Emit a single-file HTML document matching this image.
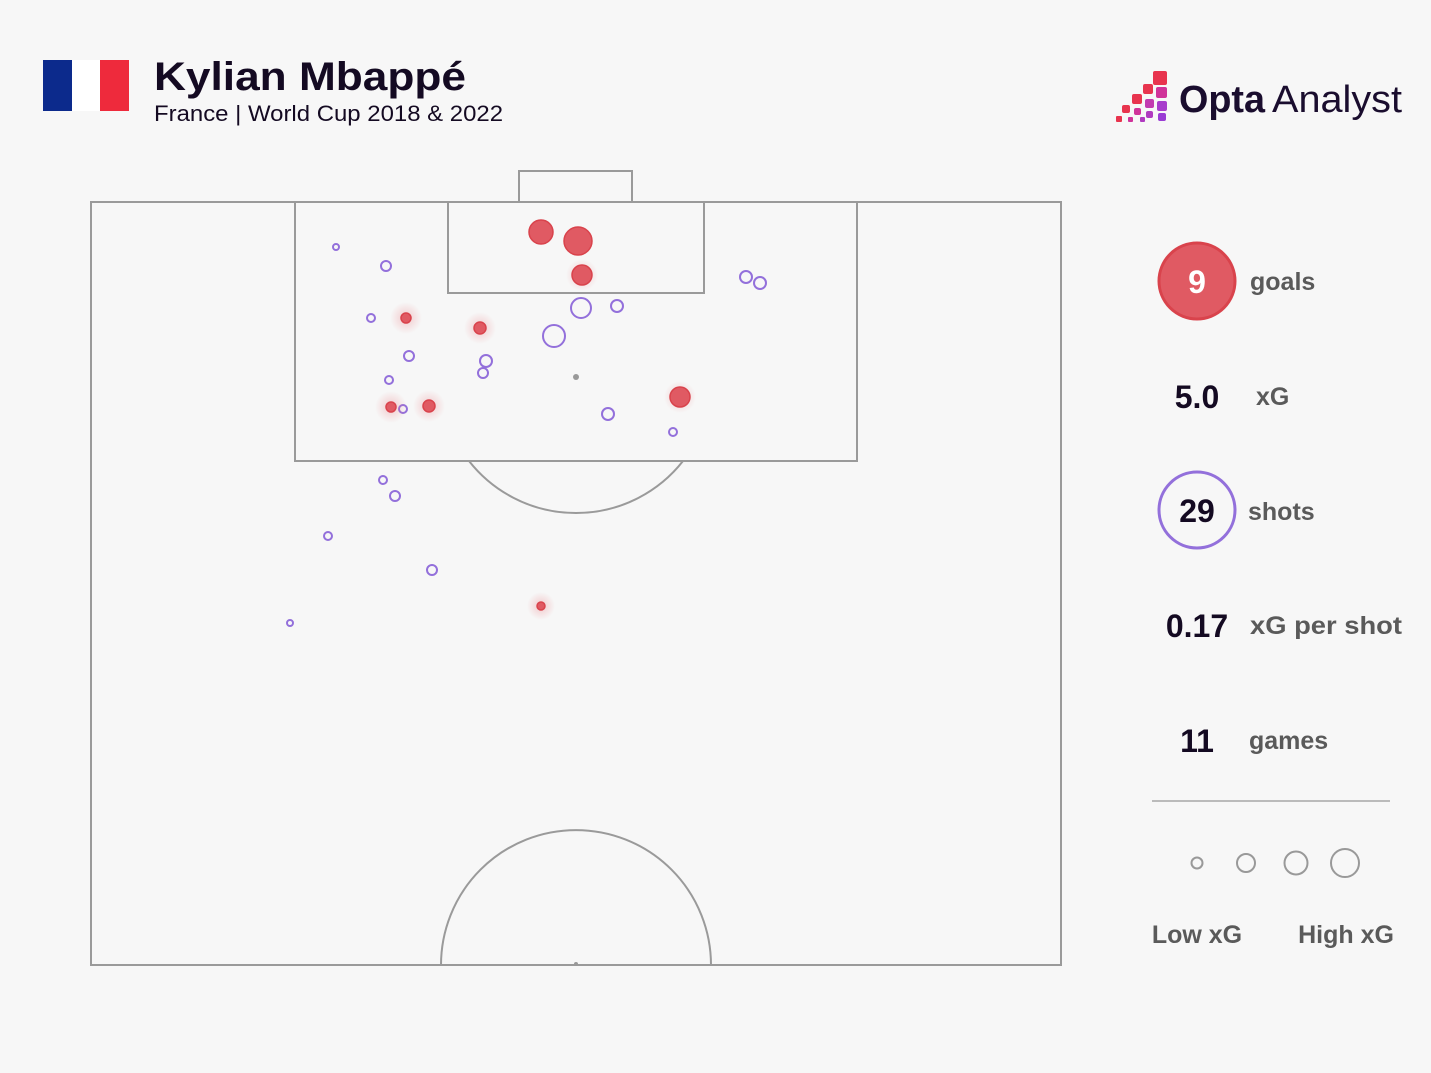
<!DOCTYPE html>
<html><head><meta charset="utf-8"><style>
html,body{margin:0;padding:0;background:#f7f7f7;}
svg{display:block;}
text{font-family:"Liberation Sans","DejaVu Sans",sans-serif;}
</style></head><body>
<svg width="1431" height="1073" viewBox="0 0 1431 1073" xmlns="http://www.w3.org/2000/svg">
<rect width="1431" height="1073" fill="#f7f7f7"/>
<defs>
<radialGradient id="gl"><stop offset="0" stop-color="#e8737a" stop-opacity="0.35"/><stop offset="1" stop-color="#e8737a" stop-opacity="0"/></radialGradient>
</defs>
<!-- flag -->
<rect x="43" y="60" width="29" height="51" fill="#0c2a8c"/>
<rect x="72" y="60" width="29" height="51" fill="#ffffff"/>
<rect x="100" y="60" width="29" height="51" fill="#ee2a3c"/>
<text x="154" y="90" font-size="40" font-weight="bold" fill="#140a22" font-family="DejaVu Sans, sans-serif" textLength="312" lengthAdjust="spacingAndGlyphs">Kylian Mbappé</text>
<text x="154" y="121" font-size="22" fill="#140a22" textLength="349" lengthAdjust="spacingAndGlyphs">France | World Cup 2018 &amp; 2022</text>
<!-- logo -->
<g>
<rect x="1153" y="71" width="14" height="14" fill="#e8344e" rx="2"/>
<rect x="1143" y="84" width="10" height="10" fill="#e8344e" rx="2"/>
<rect x="1156" y="87" width="11" height="11" fill="#d0339a" rx="2"/>
<rect x="1132" y="94" width="10" height="10" fill="#e8344e" rx="2"/>
<rect x="1145" y="99" width="9" height="9" fill="#c23bb0" rx="2"/>
<rect x="1157" y="101" width="10" height="10" fill="#a83ccc" rx="2"/>
<rect x="1122" y="105" width="8" height="8" fill="#e8344e" rx="2"/>
<rect x="1134" y="108" width="7" height="7" fill="#d0339a" rx="2"/>
<rect x="1146" y="111" width="7" height="7" fill="#b03ac0" rx="2"/>
<rect x="1158" y="113" width="8" height="8" fill="#9a3cd4" rx="2"/>
<rect x="1116" y="116" width="6" height="6" fill="#e8344e" rx="1"/>
<rect x="1128" y="117" width="5" height="5" fill="#d0339a" rx="1"/>
<rect x="1140" y="117" width="5" height="5" fill="#b03ac0" rx="1"/>
</g>
<text x="1179" y="112" font-size="38" font-weight="bold" fill="#1a0d2e" font-family="DejaVu Sans, sans-serif" textLength="86" lengthAdjust="spacingAndGlyphs">Opta</text>
<text x="1272" y="112" font-size="38" fill="#1a0d2e" font-family="DejaVu Sans, sans-serif" textLength="130" lengthAdjust="spacingAndGlyphs">Analyst</text>
<!-- pitch -->
<g fill="none" stroke="#9a9a9a" stroke-width="2">
<rect x="91" y="202" width="970" height="763"/>
<rect x="295" y="202" width="562" height="259"/>
<rect x="448" y="202" width="256" height="91"/>
<rect x="519" y="171" width="113" height="31"/>
<path d="M469 461 A136 136 0 0 0 683 461"/>
<path d="M441 965 A135 135 0 0 1 711 965"/>
</g>
<circle cx="576" cy="377" r="3" fill="#999"/>
<circle cx="576" cy="964" r="2" fill="#999"/>
<!-- purple shots -->
<g fill="none" stroke="#9370db" stroke-width="2">
<circle cx="336" cy="247" r="3"/><circle cx="386" cy="266" r="5"/><circle cx="371" cy="318" r="4"/>
<circle cx="409" cy="356" r="5"/><circle cx="389" cy="380" r="4"/><circle cx="403" cy="409" r="4"/>
<circle cx="486" cy="361" r="6"/><circle cx="483" cy="373" r="5"/><circle cx="554" cy="336" r="11"/>
<circle cx="581" cy="308" r="10"/><circle cx="617" cy="306" r="6"/><circle cx="608" cy="414" r="6"/>
<circle cx="673" cy="432" r="4"/><circle cx="746" cy="277" r="6"/><circle cx="760" cy="283" r="6"/>
<circle cx="383" cy="480" r="4"/><circle cx="395" cy="496" r="5"/><circle cx="328" cy="536" r="4"/>
<circle cx="432" cy="570" r="5"/><circle cx="290" cy="623" r="3"/>
</g>
<!-- goals -->
<g fill="url(#gl)">
<circle cx="406" cy="318" r="16"/><circle cx="480" cy="328" r="16"/><circle cx="391" cy="407" r="16"/>
<circle cx="429" cy="406" r="16"/><circle cx="541" cy="606" r="14"/><circle cx="680" cy="397" r="16"/><circle cx="582" cy="275" r="16"/>
</g>
<g fill="#e05a63" stroke="#d9434c" stroke-width="1.5">
<circle cx="541" cy="232" r="12"/><circle cx="578" cy="241" r="14"/><circle cx="582" cy="275" r="10"/>
<circle cx="406" cy="318" r="5"/><circle cx="480" cy="328" r="6"/><circle cx="391" cy="407" r="5"/>
<circle cx="429" cy="406" r="6"/><circle cx="680" cy="397" r="10"/><circle cx="541" cy="606" r="4"/>
</g>
<!-- stats -->
<circle cx="1197" cy="281" r="38" fill="#e05a63" stroke="#d9434c" stroke-width="3"/>
<g font-family="DejaVu Sans, sans-serif" font-weight="bold">
<text x="1197" y="293" font-size="32" fill="#fff" text-anchor="middle">9</text>
<text x="1250" y="290" font-size="25" fill="#5a5a5a">goals</text>
<text x="1197" y="408" font-size="32" fill="#140a22" text-anchor="middle">5.0</text>
<text x="1256" y="405" font-size="25" fill="#5a5a5a">xG</text>
<text x="1197" y="522" font-size="32" fill="#140a22" text-anchor="middle">29</text>
<text x="1248" y="520" font-size="25" fill="#5a5a5a">shots</text>
<text x="1197" y="637" font-size="32" fill="#140a22" text-anchor="middle">0.17</text>
<text x="1250" y="634" font-size="25" fill="#5a5a5a" textLength="152" lengthAdjust="spacingAndGlyphs">xG per shot</text>
<text x="1197" y="752" font-size="32" fill="#140a22" text-anchor="middle">11</text>
<text x="1249" y="749" font-size="25" fill="#5a5a5a">games</text>
<text x="1197" y="943" font-size="25" fill="#5a5a5a" text-anchor="middle">Low xG</text>
<text x="1346" y="943" font-size="25" fill="#5a5a5a" text-anchor="middle">High xG</text>
</g>
<circle cx="1197" cy="510" r="38" fill="none" stroke="#9370db" stroke-width="3"/>
<line x1="1152" y1="801" x2="1390" y2="801" stroke="#bbb" stroke-width="2"/>
<g fill="none" stroke="#999" stroke-width="2">
<circle cx="1197" cy="863" r="5.5"/><circle cx="1246" cy="863" r="9"/><circle cx="1296" cy="863" r="11.5"/><circle cx="1345" cy="863" r="14"/>
</g>
</svg>
</body></html>
